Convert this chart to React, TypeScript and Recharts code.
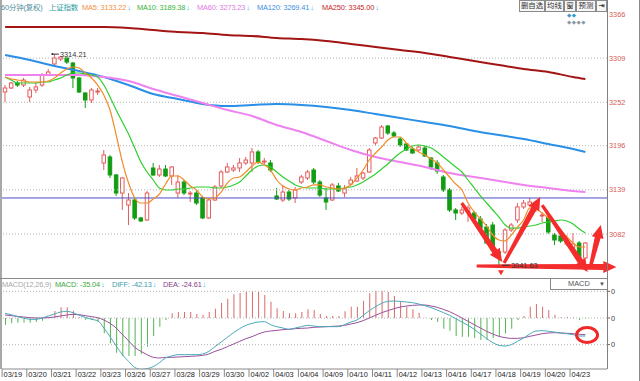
import React from "react";
import {
  ComposedChart,
  Bar,
  Line,
  XAxis,
  YAxis,
  ReferenceLine,
  ReferenceDot,
  Cell,
} from "recharts";

const FONT = '"Liberation Sans", Arial, "Noto Sans CJK SC", sans-serif';

// trading days, 4 hourly bars each (04/23 only has 3 so far)
const days = [
  "03/19", "03/20", "03/21", "03/22", "03/23", "03/26", "03/27", "03/28",
  "03/29", "03/30", "04/02", "04/03", "04/04", "04/09", "04/10", "04/11",
  "04/12", "04/13", "04/16", "04/17", "04/18", "04/19", "04/20", "04/23",
];

const open = [
  3265.3, 3270.5, 3276.9, 3274.3, 3258.9, 3267.9, 3274.3, 3287.3, 3301.5, 3307.9,
  3309.2, 3302.7, 3283.4, 3264.0, 3255.0, 3265.3, 3173.7, 3181.4, 3158.2, 3134.9,
  3119.4, 3125.9, 3102.7, 3100.1, 3167.2, 3158.2, 3165.9, 3156.9, 3134.9, 3149.1,
  3133.6, 3134.9, 3128.5, 3102.7, 3125.9, 3144.0, 3162.0, 3164.6, 3167.2, 3173.7,
  3173.7, 3187.9, 3174.9, 3173.7, 3131.1, 3125.9, 3136.2, 3128.5, 3149.1, 3154.3,
  3164.6, 3149.1, 3128.5, 3125.9, 3144.0, 3134.9, 3146.5, 3150.4, 3154.3, 3162.0,
  3199.5, 3205.9, 3221.4, 3212.4, 3204.6, 3198.2, 3191.7, 3190.4, 3193.0, 3180.1,
  3173.7, 3155.6, 3138.8, 3113.0, 3109.1, 3110.4, 3109.1, 3101.4, 3091.0, 3093.6,
  3058.8, 3058.8, 3087.2, 3100.1, 3116.9, 3119.4, 3114.3, 3105.2, 3103.9, 3080.7,
  3079.4, 3069.1, 3063.9, 3070.4, 3051.0,
];
const high = [
  3274.3, 3278.2, 3279.5, 3283.4, 3271.8, 3278.2, 3289.8, 3295.0, 3314.21, 3311.8,
  3310.5, 3304.0, 3284.7, 3265.3, 3270.5, 3270.5, 3190.4, 3184.0, 3159.5, 3155.6,
  3134.9, 3128.5, 3103.9, 3137.5, 3173.7, 3171.1, 3171.1, 3169.8, 3158.2, 3151.7,
  3137.5, 3137.5, 3131.1, 3128.5, 3145.3, 3164.6, 3173.7, 3171.1, 3180.1, 3181.4,
  3193.0, 3190.4, 3180.1, 3177.5, 3141.4, 3145.3, 3138.8, 3142.7, 3158.2, 3164.6,
  3167.2, 3151.7, 3141.4, 3147.8, 3147.8, 3145.3, 3155.6, 3167.2, 3162.0, 3193.0,
  3207.2, 3222.7, 3222.7, 3215.0, 3207.2, 3199.5, 3194.3, 3196.9, 3195.6, 3181.4,
  3177.5, 3158.2, 3141.4, 3115.6, 3116.9, 3119.4, 3111.7, 3105.2, 3094.9, 3097.5,
  3061.3, 3089.7, 3096.2, 3122.0, 3125.9, 3128.5, 3119.4, 3110.4, 3107.8, 3083.3,
  3084.6, 3080.7, 3083.3, 3073.0, 3071.7,
];
const low = [
  3252.4, 3269.2, 3271.8, 3271.8, 3252.4, 3264.0, 3271.8, 3286.0, 3300.2, 3305.3,
  3301.5, 3270.5, 3264.0, 3244.7, 3251.1, 3261.4, 3164.6, 3154.3, 3131.1, 3113.0,
  3093.6, 3100.1, 3097.5, 3098.8, 3156.9, 3155.6, 3155.6, 3145.3, 3128.5, 3132.3,
  3123.3, 3119.4, 3101.4, 3101.4, 3124.6, 3141.4, 3160.7, 3162.0, 3162.0, 3171.1,
  3162.0, 3172.4, 3172.4, 3162.0, 3125.9, 3123.3, 3124.6, 3122.0, 3146.5, 3151.7,
  3146.5, 3129.8, 3113.0, 3124.6, 3136.2, 3129.8, 3145.3, 3149.1, 3151.7, 3160.7,
  3196.9, 3204.6, 3209.8, 3207.2, 3194.3, 3189.1, 3185.3, 3187.9, 3181.4, 3164.6,
  3159.5, 3136.2, 3110.4, 3100.1, 3106.5, 3097.5, 3098.8, 3087.2, 3069.1, 3060.1,
  3041.63, 3056.2, 3084.6, 3096.2, 3114.3, 3116.9, 3110.4, 3097.5, 3082.0, 3067.8,
  3070.4, 3066.5, 3061.3, 3048.4, 3049.7,
];
const close = [
  3270.5, 3276.9, 3274.3, 3280.8, 3267.9, 3271.8, 3287.3, 3291.1, 3309.2, 3310.5,
  3304.0, 3283.4, 3265.3, 3255.0, 3267.9, 3266.6, 3184.0, 3158.2, 3134.9, 3154.3,
  3125.9, 3102.7, 3098.8, 3134.9, 3158.2, 3165.9, 3156.9, 3168.5, 3149.1, 3134.9,
  3134.9, 3122.0, 3102.7, 3125.9, 3142.7, 3162.0, 3168.5, 3167.2, 3173.7, 3177.5,
  3187.9, 3174.9, 3176.2, 3164.6, 3127.2, 3136.2, 3127.2, 3138.8, 3155.6, 3162.0,
  3149.1, 3132.3, 3123.3, 3145.3, 3137.5, 3140.1, 3151.7, 3156.9, 3160.7, 3190.4,
  3205.9, 3220.1, 3212.4, 3208.5, 3196.9, 3190.4, 3186.6, 3194.3, 3182.7, 3168.5,
  3163.3, 3138.8, 3113.0, 3109.1, 3113.0, 3115.6, 3101.4, 3089.7, 3070.4, 3061.3,
  3057.5, 3087.2, 3093.6, 3116.9, 3122.0, 3123.3, 3116.9, 3106.5, 3084.6, 3074.3,
  3073.0, 3074.3, 3069.1, 3051.0, 3070.4,
];

const ma5 = [
  3284.7, 3282.1, 3280.8, 3279.5, 3278.2, 3278.2, 3278.2, 3279.5, 3283.4, 3289.8,
  3295.0, 3297.6, 3296.3, 3289.8, 3283.4, 3274.3, 3261.4, 3242.1, 3209.8, 3174.9,
  3147.8, 3128.5, 3122.0, 3122.0, 3127.2, 3133.6, 3146.5, 3156.9, 3156.9, 3151.7,
  3144.0, 3138.8, 3129.8, 3127.2, 3128.5, 3136.2, 3147.8, 3154.3, 3155.6, 3162.0,
  3169.8, 3174.9, 3171.1, 3164.6, 3151.7, 3144.0, 3140.1, 3138.8, 3141.4, 3142.7,
  3145.3, 3145.3, 3142.7, 3141.4, 3140.1, 3141.4, 3145.3, 3154.3, 3164.6, 3177.5,
  3186.6, 3194.3, 3203.3, 3207.2, 3207.2, 3199.5, 3193.0, 3187.9, 3184.0, 3178.8,
  3173.7, 3164.6, 3155.6, 3146.5, 3138.8, 3122.0, 3110.4, 3101.4, 3092.3, 3080.7,
  3074.3, 3073.0, 3080.7, 3091.0, 3100.1, 3115.6, 3114.3, 3109.1, 3102.7, 3096.2,
  3087.2, 3078.1, 3070.4, 3065.2, 3065.2,
];
const ma10 = [
  3284.7, 3280.8, 3276.9, 3276.9, 3276.9, 3276.9, 3278.2, 3278.2, 3280.8, 3283.4,
  3287.3, 3289.8, 3289.8, 3288.5, 3287.3, 3284.7, 3274.3, 3258.9, 3242.1, 3226.6,
  3211.1, 3193.0, 3174.9, 3162.0, 3151.7, 3141.4, 3138.8, 3138.8, 3140.1, 3140.1,
  3141.4, 3142.7, 3142.7, 3142.7, 3141.4, 3141.4, 3142.7, 3145.3, 3149.1, 3156.9,
  3164.6, 3169.8, 3171.1, 3168.5, 3162.0, 3155.6, 3150.4, 3145.3, 3142.7, 3141.4,
  3141.4, 3141.4, 3140.1, 3140.1, 3140.1, 3141.4, 3142.7, 3145.3, 3149.1, 3154.3,
  3159.5, 3165.9, 3172.4, 3180.1, 3186.6, 3191.7, 3195.6, 3196.9, 3195.6, 3193.0,
  3187.9, 3181.4, 3174.9, 3168.5, 3162.0, 3151.7, 3141.4, 3131.1, 3122.0, 3113.0,
  3103.9, 3093.6, 3089.7, 3089.7, 3091.0, 3092.3, 3093.6, 3096.2, 3097.5, 3098.8,
  3100.1, 3098.8, 3094.9, 3088.5, 3083.3,
];

// slow averages read at the first bar of each day (and the last bar)
const maDays = [0, 4, 8, 12, 16, 20, 24, 28, 32, 36, 40, 44, 48, 52, 56, 60, 64, 68, 72, 76, 80, 84, 88, 92, 94];
const ma60 = [
  3287.3, 3287.3, 3287.3, 3287.3, 3284.7, 3279.5, 3269.2, 3260.1, 3251.1, 3242.1,
  3234.3, 3222.7, 3213.7, 3202.1, 3190.4, 3181.4, 3174.9, 3168.5, 3160.7, 3155.6,
  3150.4, 3145.3, 3141.4, 3137.5, 3136.2,
];
const ma120 = [
  3313.1, 3306.6, 3298.9, 3292.4, 3284.7, 3274.3, 3262.7, 3256.3, 3249.8, 3247.2,
  3248.5, 3249.8, 3248.5, 3245.9, 3242.1, 3236.9, 3231.7, 3226.6, 3221.4, 3215.0,
  3209.8, 3204.6, 3198.2, 3191.7, 3187.9,
];
const ma250 = [
  3349.2, 3349.2, 3349.2, 3349.2, 3349.2, 3347.9, 3345.3, 3342.8, 3341.5, 3338.9,
  3337.6, 3335.0, 3333.7, 3331.1, 3327.3, 3323.4, 3319.5, 3315.7, 3310.5, 3305.3,
  3300.2, 3295.0, 3291.1, 3284.7, 3282.1,
];

const macd = [
  -10, -8, -7, -7, -7, -6, -4, 1, 10.5, 16,
  16, 11, 1, -3, -3, -6, -23, -38, -52, -57,
  -57, -57, -54, -43, -27, -13, -3, 7, 9, 9,
  9, 6, 5, 9, 14, 22.5, 29, 35.5, 37.5, 39,
  40.5, 39, 34.5, 24.5, 14.5, 10.5, 7, 7, 9, 13,
  12, 6, 3, 3, 3, 10, 17, 17, 26, 37,
  41, 41, 39, 33, 24.5, 17, 13, 8, 0.5, -3,
  -6, -16, -19, -27, -28, -28, -30, -33, -33, -30,
  -28, -23, -16, -3, 3, 17, 21, 17, 12, 5,
  1, 2, 1, -3, -1,
];
const diff = [
  7, 5, 2, 0, -2, -2, 0, 3, 6, 9,
  10, 8, 4, 1, -2, -4, -15, -28, -42, -55,
  -65, -74, -77, -76, -73, -67, -60, -57, -55, -55,
  -55, -55, -54, -50, -43, -36, -29, -22, -16, -11,
  -8, -6, -5.5, -10, -13, -15, -17, -15, -13, -11,
  -12, -13, -13, -13, -13, -10, -6, -3, 4, 11,
  17, 22, 25, 25.5, 25, 24, 23, 21, 18.5, 15.5,
  12, 8, 4, -1, -6, -11, -17, -24, -31, -37,
  -41, -42, -40, -35, -30, -24, -19.5, -19, -20, -21,
  -22.5, -23.5, -25, -27, -27,
];
const dea = [
  4.5, 3.5, 2.5, 1.5, 0.5, 0, 0, 0.5, 1.5, 3,
  4.5, 5.5, 5, 3.5, 2, 0.5, -3, -8, -15, -25,
  -34, -44, -50, -55, -59, -60, -59, -59, -58.5, -58,
  -57.5, -57, -56, -54, -50, -47, -43, -39, -35, -31,
  -28, -24, -21, -19.5, -18.5, -17.5, -17, -16, -15.5, -15,
  -14, -13.5, -13, -12.5, -12, -11, -9, -7, -4, 0,
  4, 8, 11, 14, 16.5, 18, 19, 19.5, 19.5, 18,
  16, 13, 9.5, 5, 0, -5, -10, -15, -20, -24,
  -27.5, -29.5, -30.5, -30.5, -29.5, -27.5, -25.5, -23.5, -22.5, -22,
  -22.5, -23, -23.5, -24.5, -25,
];

const priceTicks = [3082, 3139, 3196, 3252, 3309, 3366];
const gridLevels = [3082, 3139, 3196, 3252, 3309];
const macdTicks = [-40, 0, 40];
const baseLine = 3128.5;

// hand-drawn red arrows, in (bar index, price)
const arrows = [
  { from: [73.7, 3122.0], to: [80.2, 3045.9] },
  { from: [80.5, 3044.6], to: [86.3, 3129.8] },
  { from: [86.6, 3119.4], to: [93.9, 3032.9] },
  { from: [94.3, 3038.1], to: [96.0, 3093.6] },
  { from: [76.1, 3040.7], to: [98.5, 3039.4] },
];
const circleMark = { x: 93.8, y: -25.5 };

const SLOTS = 98;

const rows = Array.from({ length: SLOTS }, (_, i) => {
  const has = i < open.length;
  const k = maDays.indexOf(i);
  return {
    i,
    range: has ? [low[i], high[i]] : null,
    o: has ? open[i] : null,
    h: has ? high[i] : null,
    l: has ? low[i] : null,
    c: has ? close[i] : null,
    ma5: has ? ma5[i] : null,
    ma10: has ? ma10[i] : null,
    ma60: k >= 0 ? ma60[k] : null,
    ma120: k >= 0 ? ma120[k] : null,
    ma250: k >= 0 ? ma250[k] : null,
    macd: has ? macd[i] : null,
    diff: has ? diff[i] : null,
    dea: has ? dea[i] : null,
  };
});

const hiVal = Math.max(...high);
const hiIdx = high.indexOf(hiVal);
const loVal = Math.min(...low);
const loIdx = low.indexOf(loVal);
const dayStarts = days.map((_, d) => d * 4);

function Candle(props: any) {
  const { x, y, width, height, payload } = props;
  if (!payload || payload.o == null) return null;
  const top = Math.min(y, y + height);
  const span = Math.abs(height);
  const { o, h, l, c } = payload;
  const py = (p: number) => top + ((h - p) / (h - l || 1)) * span;
  const cx = x + width / 2;
  const up = c >= o;
  const color = up ? "#e25c5c" : "#129c12";
  const bTop = py(Math.max(o, c));
  const bBot = py(Math.min(o, c));
  return (
    <g>
      <line x1={cx} x2={cx} y1={top} y2={top + span} stroke={color} strokeWidth={1} />
      <rect
        x={cx - 1.75}
        y={bTop}
        width={3.5}
        height={Math.max(bBot - bTop, 0.8)}
        fill={up ? "#fff" : color}
        stroke={color}
        strokeWidth={1}
      />
    </g>
  );
}

function Arrow(props: any) {
  const { x1, y1, x2, y2 } = props;
  const dx = x2 - x1;
  const dy = y2 - y1;
  const len = Math.hypot(dx, dy) || 1;
  const ux = dx / len;
  const uy = dy / len;
  const nx = -uy;
  const ny = ux;
  const head = 13;
  const hw = 6;
  const s0 = 1.6;
  const s1 = 3;
  const bx = x2 - ux * head;
  const by = y2 - uy * head;
  const pts = [
    [x1 + nx * s0, y1 + ny * s0],
    [bx + nx * s1, by + ny * s1],
    [bx + nx * hw, by + ny * hw],
    [x2, y2],
    [bx - nx * hw, by - ny * hw],
    [bx - nx * s1, by - ny * s1],
    [x1 - nx * s0, y1 - ny * s0],
  ];
  return <polygon points={pts.map((p) => p.join(",")).join(" ")} fill="#f42c2c" />;
}

function HighMark(props: any) {
  const { cx, cy } = props;
  return (
    <g>
      <line x1={cx} x2={cx + 7} y1={cy} y2={cy} stroke="#333" strokeWidth={1} />
      <circle cx={cx + 0.5} cy={cy} r={1} fill="#333" />
      <text x={cx + 8} y={cy} dy="0.35em" fontSize={7.4} fill="#333" fontFamily={FONT}>
        {hiVal.toFixed(2)}
      </text>
    </g>
  );
}

function LowMark(props: any) {
  const { cx, cy } = props;
  return (
    <g>
      <line x1={cx + 1} x2={cx + 9} y1={cy} y2={cy} stroke="#333" strokeWidth={1} />
      <text x={cx + 10} y={cy} dy="0.35em" fontSize={7.4} fill="#333" fontFamily={FONT}>
        {loVal.toFixed(2)}
      </text>
      <polygon points={`${cx - 3},${cy + 5} ${cx + 3},${cy + 5} ${cx},${cy + 10}`} fill="#f03030" />
    </g>
  );
}

function Circle(props: any) {
  const { cx, cy } = props;
  return <ellipse cx={cx} cy={cy} rx={10.5} ry={7.5} fill="none" stroke="#f02828" strokeWidth={3} />;
}

function DayTick(props: any) {
  const { x, y, payload } = props;
  const label = days[Math.round(payload.value / 4)];
  return (
    <g>
      <line x1={x - 3} x2={x - 3} y1={y} y2={y + 8} stroke="#8a8a8a" />
      <text x={x - 1.5} y={y + 8.2} fontSize={7.4} fill="#222" fontFamily={FONT}>
        {label}
      </text>
    </g>
  );
}

const ARROW_C = "#19b5e6";

// one legend entry: text followed by a small down arrow, laid out inline
function Legend({ x, y, color, text, arrow }: any) {
  return (
    <span
      style={{
        position: "absolute",
        left: x,
        top: y,
        fontSize: 7.4,
        lineHeight: "9px",
        whiteSpace: "nowrap",
        letterSpacing: -0.15,
      }}
    >
      <span style={{ color }}>{text}</span>
      {arrow ? <span style={{ color: ARROW_C, marginLeft: 1 }}>↓</span> : null}
    </span>
  );
}

const header = [
  { x: 1, text: "60分钟(复权)", color: "#4f8e9c" },
  { x: 49, text: "上证指数", color: "#2c9aa0" },
  { x: 82, text: "MA5: 3133.22", color: "#f0903e", arrow: true },
  { x: 137, text: "MA10: 3189.38", color: "#36b436", arrow: true },
  { x: 197, text: "MA60: 3273.23", color: "#e27ae2", arrow: true },
  { x: 257, text: "MA120: 3269.41", color: "#3a90e0", arrow: true },
  { x: 322, text: "MA250: 3345.00", color: "#c82828", arrow: true },
];

const macdHeader = [
  { x: 2, text: "MACD(12,26,9)", color: "#a8a8a8" },
  { x: 55, text: "MACD: -35.04", color: "#3aa83a", arrow: true },
  { x: 112, text: "DIFF: -42.13", color: "#3a9eb0", arrow: true },
  { x: 163, text: "DEA: -24.61", color: "#8a3a8a", arrow: true },
];

const buttons = [
  { label: "删自选", x: 519, w: 26 },
  { label: "均线", x: 545, w: 19 },
  { label: "窗", x: 564, w: 12 },
  { label: "预测", x: 576, w: 20 },
  { label: "⇥", x: 596, w: 11 },
];

export default function App() {
  return (
    <div
      style={{
        position: "absolute",
        left: 0,
        top: 0,
        width: 640,
        height: 381,
        background: "#fff",
        overflow: "hidden",
        fontFamily: FONT,
      }}
    >
      <div style={{ position: "absolute", left: 0, top: 0 }}>
        <ComposedChart width={640} height={281} data={rows} margin={{ top: 4, right: 0, bottom: 3, left: 2 }}>
          <XAxis xAxisId="c" dataKey="i" type="category" hide />
          <XAxis xAxisId="n" type="number" domain={[-0.5, 97.5]} allowDataOverflow hide />
          <YAxis
            orientation="right"
            width={33}
            domain={[3025.2, 3378.9]}
            ticks={priceTicks}
            interval={0}
            allowDataOverflow
            axisLine={false}
            tickLine={false}
            tickSize={0}
            tickMargin={2}
            tick={{ fill: "#d25a5a", fontSize: 7.4, fontFamily: FONT }}
          />
          {gridLevels.map((v) => (
            <ReferenceLine key={v} xAxisId="c" y={v} stroke="#b4b4b4" strokeDasharray="1 2" />
          ))}
          <ReferenceLine xAxisId="c" y={baseLine} stroke="#4b4bc8" strokeWidth={1} />
          <Bar xAxisId="c" dataKey="range" barSize={4} shape={<Candle />} isAnimationActive={false} />
          <Line xAxisId="c" type="monotone" dataKey="ma250" stroke="#a31515" strokeWidth={2} dot={false} activeDot={false} connectNulls isAnimationActive={false} />
          <Line xAxisId="c" type="monotone" dataKey="ma120" stroke="#2a8fe6" strokeWidth={2} dot={false} activeDot={false} connectNulls isAnimationActive={false} />
          <Line xAxisId="c" type="monotone" dataKey="ma60" stroke="#ee82ee" strokeWidth={2} dot={false} activeDot={false} connectNulls isAnimationActive={false} />
          <Line xAxisId="c" type="monotone" dataKey="ma10" stroke="#2fcf2f" strokeWidth={1.2} dot={false} activeDot={false} isAnimationActive={false} />
          <Line xAxisId="c" type="monotone" dataKey="ma5" stroke="#f28c28" strokeWidth={1.2} dot={false} activeDot={false} isAnimationActive={false} />
          <ReferenceDot xAxisId="n" x={hiIdx} y={hiVal} r={1} ifOverflow="visible" shape={<HighMark />} />
          <ReferenceDot xAxisId="n" x={loIdx} y={loVal} r={1} ifOverflow="visible" shape={<LowMark />} />
          {arrows.map((a, k) => (
            <ReferenceLine
              key={k}
              xAxisId="n"
              ifOverflow="visible"
              segment={[
                { x: a.from[0], y: a.from[1] },
                { x: a.to[0], y: a.to[1] },
              ]}
              shape={<Arrow />}
            />
          ))}
        </ComposedChart>
      </div>

      <div style={{ position: "absolute", left: 0, top: 278 }}>
        <ComposedChart width={640} height={103} data={rows} margin={{ top: 5, right: 0, bottom: 0, left: 2 }}>
          <XAxis
            xAxisId="c"
            dataKey="i"
            type="category"
            height={12}
            ticks={dayStarts}
            interval={0}
            tick={<DayTick />}
            tickLine={false}
            tickSize={0}
            tickMargin={0}
            axisLine={{ stroke: "#888" }}
          />
          <XAxis xAxisId="n" type="number" domain={[-0.5, 97.5]} allowDataOverflow hide />
          <YAxis
            orientation="right"
            width={33}
            domain={[-76.5, 52.5]}
            ticks={macdTicks}
            interval={0}
            allowDataOverflow
            axisLine={false}
            tickLine={{ stroke: "#666" }}
            tickSize={3}
            tickMargin={1}
            tickFormatter={() => "0"}
            tick={{ fill: "#444", fontSize: 7.4, fontFamily: FONT }}
          />
          {macdTicks.map((v) => (
            <ReferenceLine key={v} xAxisId="c" y={v} stroke="#b4b4b4" strokeDasharray="1 2" />
          ))}
          <Bar xAxisId="c" dataKey="macd" barSize={1} isAnimationActive={false}>
            {rows.map((r, k) => (
              <Cell key={k} fill={(r.macd ?? 0) >= 0 ? "#d96a6a" : "#52b552"} />
            ))}
          </Bar>
          <Line xAxisId="c" type="monotone" dataKey="dea" stroke="#9b4f9b" strokeWidth={1} dot={false} activeDot={false} isAnimationActive={false} />
          <Line xAxisId="c" type="monotone" dataKey="diff" stroke="#4aa8b8" strokeWidth={1} dot={false} activeDot={false} isAnimationActive={false} />
          <ReferenceDot xAxisId="n" x={circleMark.x} y={circleMark.y} r={1} ifOverflow="visible" shape={<Circle />} />
        </ComposedChart>
      </div>

      {/* frame */}
      <div style={{ position: "absolute", left: 0, top: 0, width: 2, height: 369, background: "#a8a8a8" }} />
      <div style={{ position: "absolute", left: 607, top: 0, width: 1, height: 369, background: "#808080" }} />
      <div style={{ position: "absolute", left: 639, top: 0, width: 1, height: 381, background: "#8a8a8a" }} />
      <div style={{ position: "absolute", left: 0, top: 278, width: 607, height: 1, background: "#8a8a8a" }} />

      {/* header */}
      {header.map((h) => (
        <Legend key={h.text} x={h.x} y={3} color={h.color} text={h.text} arrow={h.arrow} />
      ))}
      {buttons.map((b) => (
        <div
          key={b.label}
          style={{
            position: "absolute",
            left: b.x,
            top: 0,
            width: b.w,
            height: 12,
            boxSizing: "border-box",
            border: "1px solid #8a8a8a",
            background: "#f6f6f6",
            color: "#333",
            fontSize: 7.4,
            lineHeight: "10px",
            textAlign: "center",
            fontFamily: b.label === "⇥" ? '"DejaVu Sans", sans-serif' : FONT,
            fontWeight: b.label === "⇥" ? 700 : 400,
          }}
        >
          {b.label}
        </div>
      ))}
      <span style={{ position: "absolute", left: 567, top: 12, fontSize: 5.5, lineHeight: "6px", color: "#3a96c8", letterSpacing: 0.5, fontFamily: '"DejaVu Sans", sans-serif' }}>◆◆</span>
      <span style={{ position: "absolute", left: 567, top: 19, fontSize: 5.5, lineHeight: "6px", color: "#8a9aa0", letterSpacing: 0.5, fontFamily: '"DejaVu Sans", sans-serif' }}>◆◆◆◆</span>

      {/* MACD panel header */}
      {macdHeader.map((h) => (
        <Legend key={h.text} x={h.x} y={280} color={h.color} text={h.text} arrow={h.arrow} />
      ))}
      <div
        style={{
          position: "absolute",
          left: 550,
          top: 278,
          width: 57,
          height: 12,
          boxSizing: "border-box",
          borderLeft: "1px solid #888",
          borderBottom: "1px solid #888",
          borderTop: "1px solid #888",
          background: "#fff",
          fontSize: 7.4,
          lineHeight: "10px",
          color: "#555",
        }}
      >
        <span style={{ position: "absolute", left: 17 }}>MACD</span>
        <span style={{ position: "absolute", left: 48, fontSize: 6 }}>▼</span>
      </div>
    </div>
  );
}
